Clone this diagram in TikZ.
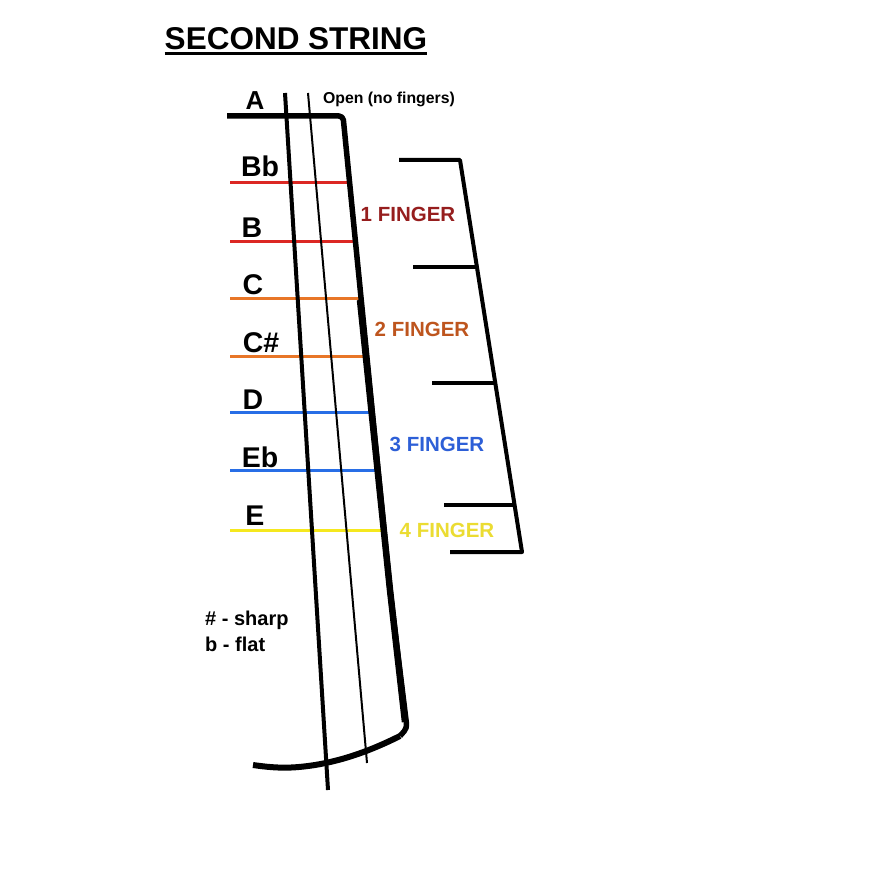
\documentclass[tikz,border=0pt]{standalone}
\usepackage{fontspec}
\setmainfont{Liberation Sans}
\definecolor{fretred}{RGB}{220,40,35}
\definecolor{fretorange}{RGB}{232,118,40}
\definecolor{fretblue}{RGB}{40,110,230}
\definecolor{fretyellow}{RGB}{245,232,30}
\definecolor{labone}{RGB}{150,30,30}
\definecolor{labtwo}{RGB}{190,85,30}
\definecolor{labthree}{RGB}{45,95,215}
\definecolor{labfour}{RGB}{235,220,50}
\tikzset{
  notelab/.style={anchor=base, inner sep=0pt, font=\fontsize{28.5}{30}\selectfont\bfseries},
  fingerlab/.style={anchor=base, inner sep=0pt, font=\fontsize{20.5}{22}\selectfont\bfseries},
  fret/.style={line width=3pt},
  bracketline/.style={line width=4pt},
  keytext/.style={anchor=base west, inner sep=0pt, font=\fontsize{20}{22}\selectfont\bfseries}
}
\begin{document}
\begin{tikzpicture}[x=1pt,y=-1pt]
\useasboundingbox (0,0) rectangle (877,877);
\fill[white] (0,0) rectangle (877,877);
% title
\node[anchor=base, inner sep=0pt, font=\fontsize{31.5}{34}\selectfont\bfseries] (title) at (296,50) {SECOND STRING};
\draw[line width=2.2pt] ([yshift=-3.5pt]title.base west) -- ([yshift=-3.5pt]title.base east);
% frets
\draw[fret, fretred] (230,183) -- (350,183);
\draw[fret, fretred] (230,241) -- (356,241);
\draw[fret, fretorange] (230,298) -- (361,298);
\draw[fret, fretorange] (230,356) -- (367,356);
\draw[fret, fretblue] (230,412) -- (373,412);
\draw[fret, fretblue] (230,470) -- (378,470);
\draw[fret, fretyellow] (230,530) -- (384,530);
% strings
\draw[line width=4pt] (285,93) -- (328,790);
\draw[line width=2pt] (308,93) -- (367,763);
% nut, edge and bottom
\draw[line width=5.5pt, line join=round, rounded corners=4pt] (227,116) -- (343,116) -- (390,590) -- (407,728) -- (400,736);
\draw[line width=6pt] (400,736) .. controls (372,750) and (345,760) .. (315,765) .. controls (295,768) and (280,769) .. (253,765);
\draw[line width=6.5pt] (360,300) -- (390,590) -- (405,722);
% bracket
\draw[bracketline, line join=round] (399,160) -- (460,160) -- (522,552) -- (450,552);
\draw[bracketline] (413,267) -- (477,267);
\draw[bracketline] (432,383) -- (495,383);
\draw[bracketline] (444,505) -- (515,505);
% note labels
\node[notelab, font=\fontsize{26}{28}\selectfont\bfseries] (nA) at (255,110) {A};
\node[notelab] (nBb) at (260,177) {Bb};
\node[notelab] (nB) at (252,237) {B};
\node[notelab] (nC) at (253,294) {C};
\node[notelab] (nCs) at (261,352) {C\#};
\node[notelab] (nD) at (253,409) {D};
\node[notelab] (nEb) at (260,467) {Eb};
\node[notelab] (nE) at (255,525) {E};
% open
\node[anchor=base west, inner sep=0pt, font=\fontsize{15.8}{17}\selectfont\bfseries] (open) at (323,104) {Open (no fingers)};
% finger labels
\node[fingerlab, text=labone] (f1) at (408,222) {1 FINGER};
\node[fingerlab, text=labtwo] (f2) at (422,336) {2 FINGER};
\node[fingerlab, text=labthree] (f3) at (437,451) {3 FINGER};
\node[fingerlab, text=labfour] (f4) at (447,537) {4 FINGER};
% key
\node[keytext] (k1) at (205,625) {\# - sharp};
\node[keytext] (k2) at (205,651) {b - flat};
\end{tikzpicture}
\end{document}
